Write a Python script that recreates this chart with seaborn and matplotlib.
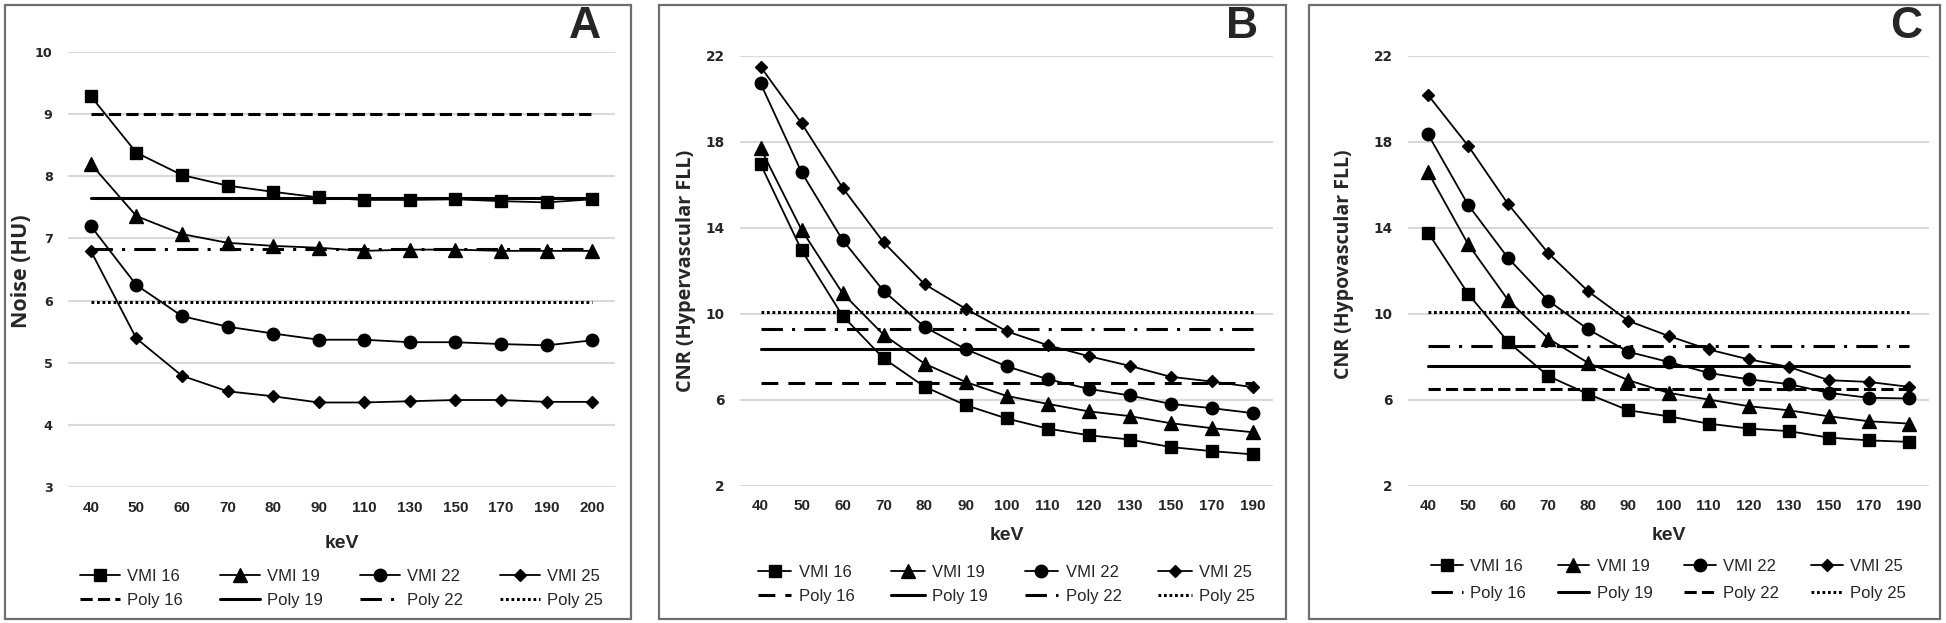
import numpy as np
import pandas as pd
import matplotlib
matplotlib.use('Agg')
import matplotlib.pyplot as plt
import seaborn as sns
from matplotlib.patches import Rectangle

# ---------------- data ----------------
kev_a = ['40', '50', '60', '70', '80', '90', '110', '130', '150', '170', '190', '200']
kev_bc = ['40', '50', '60', '70', '80', '90', '100', '110', '120', '130', '150', '170', '190']

# Panel A: Noise (HU)
noise_vmi16 = [9.29, 8.38, 8.02, 7.85, 7.75, 7.66, 7.62, 7.62, 7.63, 7.60, 7.58, 7.63]
noise_vmi19 = [8.20, 7.36, 7.07, 6.93, 6.88, 6.85, 6.80, 6.82, 6.82, 6.80, 6.80, 6.80]
noise_vmi22 = [7.20, 6.25, 5.75, 5.58, 5.47, 5.37, 5.37, 5.33, 5.33, 5.30, 5.28, 5.36]
noise_vmi25 = [6.80, 5.39, 4.79, 4.54, 4.46, 4.36, 4.36, 4.38, 4.40, 4.40, 4.37, 4.37]
noise_poly = {'Poly 16': 9.00, 'Poly 19': 7.65, 'Poly 22': 6.83, 'Poly 25': 5.97}

# Panel B: CNR (Hypervascular FLL)
hyper_vmi16 = [16.96, 12.96, 9.90, 7.92, 6.60, 5.74, 5.12, 4.65, 4.34, 4.14, 3.79, 3.60, 3.45]
hyper_vmi19 = [17.69, 13.90, 10.95, 9.02, 7.67, 6.82, 6.17, 5.80, 5.45, 5.23, 4.90, 4.67, 4.48]
hyper_vmi22 = [20.72, 16.58, 13.43, 11.06, 9.38, 8.35, 7.55, 6.95, 6.50, 6.19, 5.80, 5.60, 5.37]
hyper_vmi25 = [21.49, 18.86, 15.86, 13.32, 11.37, 10.23, 9.18, 8.53, 8.02, 7.57, 7.06, 6.84, 6.58]
hyper_poly = {'Poly 16': 6.79, 'Poly 19': 8.37, 'Poly 22': 9.30, 'Poly 25': 10.08}

# Panel C: CNR (Hypovascular FLL)
hypo_vmi16 = [13.77, 10.92, 8.68, 7.09, 6.25, 5.50, 5.22, 4.88, 4.65, 4.53, 4.23, 4.10, 4.03]
hypo_vmi19 = [16.58, 13.23, 10.62, 8.84, 7.70, 6.90, 6.31, 6.00, 5.69, 5.50, 5.22, 4.99, 4.88]
hypo_vmi22 = [18.34, 15.06, 12.58, 10.60, 9.26, 8.22, 7.75, 7.24, 6.94, 6.72, 6.31, 6.08, 6.05]
hypo_vmi25 = [20.17, 17.81, 15.09, 12.81, 11.03, 9.66, 8.96, 8.33, 7.87, 7.52, 6.90, 6.82, 6.59]
hypo_poly = {'Poly 16': 8.47, 'Poly 19': 7.56, 'Poly 22': 6.47, 'Poly 25': 10.08}

vmi_labels = ['VMI 16', 'VMI 19', 'VMI 22', 'VMI 25']
poly_labels = ['Poly 16', 'Poly 19', 'Poly 22', 'Poly 25']

# ---------------- style ----------------
sns.set_style('white')
plt.rcParams['font.family'] = ['Liberation Sans', 'DejaVu Sans']

W, H = 1946, 623
fig = plt.figure(figsize=(W / 100, H / 100), dpi=100)

markers = {'VMI 16': ('s', 9), 'VMI 19': ('^', 9.5), 'VMI 22': ('o', 9), 'VMI 25': ('D', 6.5)}
SOLID = (None, None)
DASH_SHORT = (0, (4, 1.7))
DASH_LONG = (0, (5.5, 3.3))
DASH_DOT = (0, (7, 3, 1, 3))
DOT = (0, (0.9, 0.9))
YTICK_FONT = dict(family='DejaVu Sans', fontweight='bold')
XTICK_FONT = dict(family='Liberation Sans', fontweight='bold')
YLABEL_FONT = dict(family=['Open Sans', 'DejaVu Sans'], fontweight='bold')


def px_axes(left, right, top, bottom):
    return [left / W, 1 - bottom / H, (right - left) / W, (bottom - top) / H]


def draw_panel(rect, kev, vmis, polys, poly_styles, ylim, yticks, ytick_fs, ylabel,
               ylabel_fs, letter, letter_xy, ylabel_xy, xlabel_y, legend_y,
               handlelen, labelsp, colsp):
    ax = fig.add_axes(rect)
    n = len(kev)
    for lbl, vals in zip(vmi_labels, vmis):
        m, ms = markers[lbl]
        sns.pointplot(x=kev, y=vals, order=kev, color='black', marker=m,
                      markersize=ms, linewidth=1.3, linestyle='-',
                      label=lbl, ax=ax, errorbar=None)
    for lbl in poly_labels:
        ls = poly_styles[lbl]
        kw = {} if ls is SOLID else {'linestyle': ls}
        ax.axhline(polys[lbl], xmin=0.5 / n, xmax=1 - 0.5 / n, color='black',
                   lw=2.2, label=lbl, **kw)
    ax.set_xlim(-0.5, n - 0.5)
    ax.set_ylim(*ylim)
    ax.set_yticks(yticks)
    ax.set_yticklabels([str(t) for t in yticks], fontsize=ytick_fs, **YTICK_FONT)
    ax.set_xticks(range(n))
    ax.set_xticklabels(kev, fontsize=11, **XTICK_FONT)
    ax.tick_params(axis='both', length=0)
    ax.tick_params(axis='x', pad=10)
    ax.tick_params(axis='y', pad=11)
    ax.yaxis.grid(True, color='#d9d9d9', lw=1.5)
    ax.xaxis.grid(False)
    ax.set_axisbelow(True)
    for s in ax.spines.values():
        s.set_visible(False)
    ax.set_ylabel(ylabel, fontsize=ylabel_fs, **YLABEL_FONT)
    ax.yaxis.set_label_coords(*ylabel_xy)
    ax.set_xlabel('keV', fontsize=14, fontweight='bold')
    ax.xaxis.set_label_coords(0.5, xlabel_y)

    handles, labels = ax.get_legend_handles_labels()
    hmap = dict(zip(labels, handles))
    order = []
    for v, p in zip(vmi_labels, poly_labels):
        order += [v, p]
    ax.legend([hmap[k] for k in order], order, ncol=4, loc='center',
              bbox_to_anchor=(0.5, legend_y), frameon=False, fontsize=12,
              handlelength=handlelen, handletextpad=0.45, columnspacing=colsp,
              labelspacing=labelsp)
    fig.text(letter_xy[0] / W, 1 - letter_xy[1] / H, letter, fontsize=32,
             fontweight='bold', ha='center', va='center')
    return ax


# Panel borders
for (x0, x1) in [(5, 631), (659, 1286), (1309, 1940)]:
    fig.patches.append(Rectangle((x0 / W, 1 - 619 / H), (x1 - x0) / W, 614 / H,
                                 transform=fig.transFigure, fill=False,
                                 edgecolor='#6e6e6e', lw=1.6))

draw_panel(px_axes(68, 615, 52, 487), kev_a,
           [noise_vmi16, noise_vmi19, noise_vmi22, noise_vmi25], noise_poly,
           {'Poly 16': DASH_SHORT, 'Poly 19': SOLID, 'Poly 22': DASH_DOT, 'Poly 25': DOT},
           (3, 10), [3, 4, 5, 6, 7, 8, 9, 10], 9.2, 'Noise (HU)', 15.5, 'A', (585, 27),
           (-0.066, 0.497), -0.110, -0.233, 2.4, 0.5, 2.2)

draw_panel(px_axes(740, 1273, 55.7, 485.5), kev_bc,
           [hyper_vmi16, hyper_vmi19, hyper_vmi22, hyper_vmi25], hyper_poly,
           {'Poly 16': DASH_LONG, 'Poly 19': SOLID, 'Poly 22': DASH_DOT, 'Poly 25': DOT},
           (2, 22), [2, 6, 10, 14, 18, 22], 9.8, 'CNR (Hypervascular FLL)', 14.3,
           'B', (1242, 27), (-0.083, 0.5), -0.097, -0.23, 2.0, 0.5, 2.2)

draw_panel(px_axes(1408, 1929, 55.7, 485.5), kev_bc,
           [hypo_vmi16, hypo_vmi19, hypo_vmi22, hypo_vmi25], hypo_poly,
           {'Poly 16': DASH_DOT, 'Poly 19': SOLID, 'Poly 22': DASH_SHORT, 'Poly 25': DOT},
           (2, 22), [2, 6, 10, 14, 18, 22], 9.8, 'CNR (Hypovascular FLL)', 14.0,
           'C', (1906, 27), (-0.104, 0.515), -0.097, -0.22, 1.9, 0.75, 1.9)

fig.savefig('out.png', dpi=100)
